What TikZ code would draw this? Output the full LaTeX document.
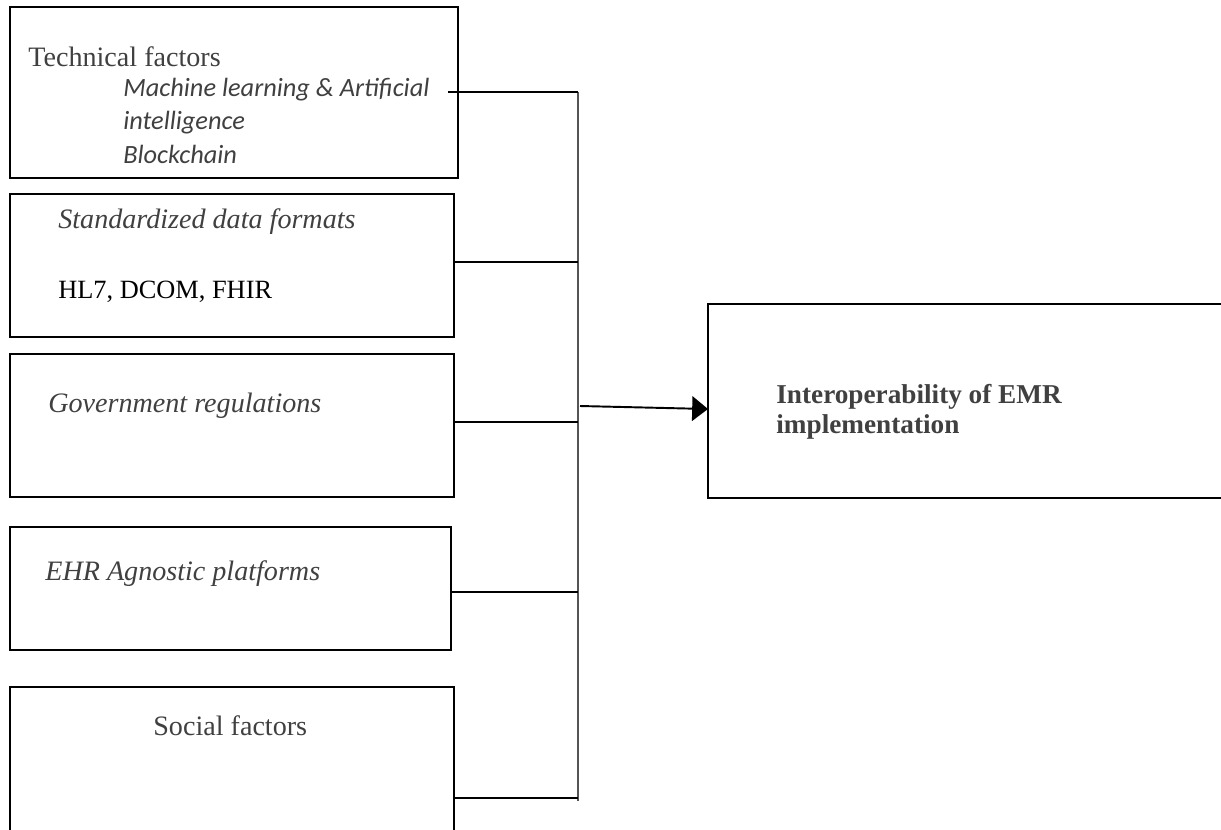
\documentclass[tikz,border=0pt]{standalone}
\usepackage{fontspec}
\setmainfont{Liberation Serif}
\newfontfamily\carlito{Carlito}
\usetikzlibrary{arrows.meta,fit}
\definecolor{txtgray}{HTML}{404040}
\definecolor{busgray}{HTML}{555555}

\begin{document}
\begin{tikzpicture}[x=0.02cm,y=-0.02cm,>={Triangle[length=9pt,width=14pt]}]
  \tikzset{
    factor/.style={draw=black,line width=1.1pt,inner sep=0pt},
    factortext/.style={anchor=base west,inner sep=0pt,text=txtgray,font=\fontsize{16}{19}\selectfont},
    branch/.style={line width=0.6pt},
  }
  \useasboundingbox (0,0) rectangle (1221,829);
  \clip (0,0) rectangle (1221,829);
  % factor boxes
  \node[factor,fit={(10,7) (458,178)}] (tbox) {};
  \node[factor,fit={(10,194) (454,337)}] (sbox) {};
  \node[factor,fit={(10,354) (454,497)}] (gbox) {};
  \node[factor,fit={(10,527) (451,650)}] (ebox) {};
  \node[factor,fit={(10,687) (454,850)}] (fbox) {};
  \node[factor,fit={(708,304) (1250,498)}] (emr) {};
  % texts (base of a multi-line node is its last line)
  \node[factortext] (tech) at (28,66) {Technical factors};
  \node[factortext,align=left,font=\carlito\itshape\fontsize{15}{19}\selectfont] (techlist) at (123,163) {Machine learning \& Artificial\\intelligence\\Blockchain};
  \node[factortext,font=\itshape\fontsize{16}{19}\selectfont] (std) at (58,228) {Standardized data formats};
  \node[factortext,text=black,font=\fontsize{15}{19}\selectfont] (hl7) at (58,298) {HL7, DCOM, FHIR};
  \node[factortext,font=\itshape\fontsize{16}{19}\selectfont] (gov) at (48,412) {Government regulations};
  \node[factortext,font=\itshape\fontsize{16}{19}\selectfont] (ehr) at (45,580) {EHR Agnostic platforms};
  \node[factortext] (social) at (153,735) {Social factors};
  \node[factortext,align=left,font=\bfseries\fontsize{15.5}{17}\selectfont] (emrtext) at (776,433) {Interoperability of EMR\\implementation};
  % bus
  \coordinate (j1) at (578,92);
  \coordinate (j2) at (578,262);
  \coordinate (j3) at (578,422);
  \coordinate (j4) at (578,592);
  \coordinate (j5) at (578,798);
  \coordinate (jend) at (578,801);
  \coordinate (out) at (580,406);
  \coordinate (tip) at (708,409);
  \draw[branch,busgray,line width=0.8pt] (j1) -- (jend);
  \draw[branch] ([xshift=-6]tbox.east |- j1) -- (j1);
  \draw[branch] (sbox.east |- j2) -- (j2);
  \draw[branch] (gbox.east |- j3) -- (j3);
  \draw[branch] (ebox.east |- j4) -- (j4);
  \draw[branch] (fbox.east |- j5) -- (j5);
  \draw[->,line width=1.1pt] (out) -- (tip);
\end{tikzpicture}
\end{document}
